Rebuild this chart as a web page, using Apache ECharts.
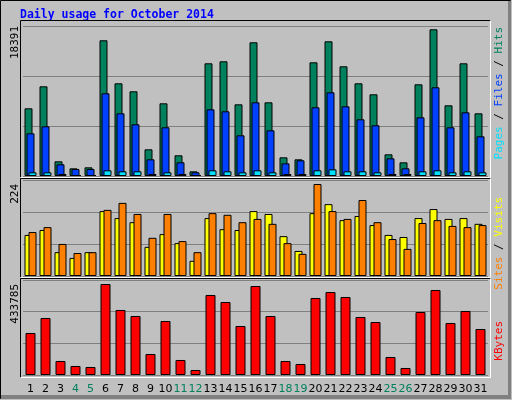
<!DOCTYPE html>
<html><head><meta charset="utf-8">
<script src="https://cdn.jsdelivr.net/npm/echarts@6/dist/echarts.min.js"></script>
<style>html,body{margin:0;padding:0;background:#c0c0c0}#c{width:512px;height:400px}</style>
</head><body><div id="c"></div>
<script>
const days = ['1','2','3','4','5','6','7','8','9','10','11','12','13','14','15','16','17','18','19','20','21','22','23','24','25','26','27','28','29','30','31'];
const weekends = ['4','5','11','12','18','19','25','26'];
const hits = [8485,11244,1839,961,1087,17013,11620,10617,3344,9112,2592,585,14128,14379,8987,16762,9238,2341,2090,14254,16887,13752,11620,10241,2717,1714,11495,18391,8862,14128,7858];
const files = [5350,6228,1463,878,878,10366,7858,6479,2090,6103,1714,460,8360,8109,5100,9238,5727,1588,1965,8611,10492,8736,7106,6354,2215,961,7357,11119,6103,7984,4974];
const pages = [460,460,250,125,125,710,585,585,250,460,250,125,710,585,460,710,460,250,250,710,836,585,585,460,250,250,585,710,460,585,460];
const visits = [100,112,58,44,58,158,141,131,71,102,80,37,141,114,112,158,151,97,61,153,175,136,146,124,100,95,141,163,139,141,127];
const sites = [107,119,78,56,58,161,178,151,93,151,85,58,153,149,131,139,127,80,54,224,158,139,185,131,90,66,129,136,122,119,124];
const kbytes = [200214,271719,66738,42903,38136,433785,309855,281253,100107,257418,71505,23835,381360,347991,233583,424263,281253,66738,52437,367059,395661,371826,276486,252651,85806,33369,300321,405195,247884,305088,219282];
const maxLabels = ['18391','224','433785'];

const ch = echarts.init(document.getElementById('c'));
const grids = [
  {left:23, width:465, top:26, height:150},
  {left:23, width:465, top:180, height:96},
  {left:23, width:465, top:280, height:95}
];
const maxes = [18391*150/146.7, 224*96/92, 433785*95/91];
const bs = {borderColor:'#000', borderWidth:1};
function xAx(i, show){
  return {type:'category', gridIndex:i, data:days, boundaryGap:true,
    axisLine:{show:false}, axisTick:{show:false},
    axisLabel:{show:show, margin:9, fontSize:11, fontFamily:'DejaVu Sans', interval:0,
      color:(v)=> weekends.includes(v)?'#00805c':'#000'}};
}
function yAx(i){
  return {type:'value', gridIndex:i, min:0, max:maxes[i], interval:maxes[i]/3,
    axisLabel:{show:false}, axisLine:{show:false}, axisTick:{show:false},
    splitLine:{show:true, lineStyle:{color:'#808080', width:1}}};
}
function frame(x,y,w,h){
  return [
    {type:'line', shape:{x1:x,y1:y,x2:x+w,y2:y}, style:{stroke:'#000'}},
    {type:'line', shape:{x1:x,y1:y,x2:x,y2:y+h}, style:{stroke:'#000'}},
    {type:'line', shape:{x1:x,y1:y+h,x2:x+w,y2:y+h}, style:{stroke:'#fff'}},
    {type:'line', shape:{x1:x+w,y1:y,x2:x+w,y2:y+h}, style:{stroke:'#fff'}}
  ];
}
function vtext(x,y,rich,text){
  return {type:'text', x:x, y:y, rotation:Math.PI/2, z:10,
    style:{text:text, rich:rich, align:'right', verticalAlign:'middle',
      font:'11px "DejaVu Sans Mono"', fill:'#000'}};
}
const st = (c)=>({fill:c, font:'11px "DejaVu Sans Mono"'});
ch.setOption({
  animation:false,
  backgroundColor:'#c0c0c0',
  grid:grids,
  xAxis:[xAx(0,false),xAx(1,false),xAx(2,true)],
  yAxis:[yAx(0),yAx(1),yAx(2)],
  graphic:[
    {type:'rect', shape:{x:0.5,y:0.5,width:510,height:398}, style:{fill:'none', stroke:'#000'}, z:-1},
    {type:'rect', shape:{x:1,y:395,width:510,height:4}, style:{fill:'#808080'}},
    {type:'rect', shape:{x:508,y:1,width:3,height:398}, style:{fill:'#808080'}},
    {type:'text', x:20, y:15, style:{text:'Daily usage for October 2014', font:'bold 11.5px "DejaVu Sans Mono"', fill:'#0000ff', verticalAlign:'middle'}},
    ...frame(20.5,20.5,470,157),
    ...frame(20.5,178.5,470,99),
    ...frame(20.5,278.5,470,99),
    vtext(15,26,{},maxLabels[0]),
    vtext(15,184,{},maxLabels[1]),
    vtext(15,284,{},maxLabels[2]),
    vtext(499,27,{p:st('#00e0ff'),f:st('#0040ff'),h:st('#00805c'),s:st('#000')},'{p|Pages}{s| / }{f|Files}{s| / }{h|Hits}'),
    vtext(499,197,{a:st('#ff8000'),b:st('#ffff00'),s:st('#000')},'{a|Sites}{s| / }{b|Visits}'),
    vtext(499,321,{k:st('#ff0000')},'{k|KBytes}')
  ],
  series:[
    {type:'bar', name:'Hits', xAxisIndex:0, yAxisIndex:0, data:hits, barWidth:8, barGap:'-75%', itemStyle:Object.assign({color:'#00805c'},bs)},
    {type:'bar', name:'Files', xAxisIndex:0, yAxisIndex:0, data:files, barWidth:8, barGap:'-75%', itemStyle:Object.assign({color:'#0040ff'},bs)},
    {type:'bar', name:'Pages', xAxisIndex:0, yAxisIndex:0, data:pages, barWidth:8, barGap:'-75%', itemStyle:Object.assign({color:'#00e0ff'},bs)},
    {type:'bar', name:'Visits', xAxisIndex:1, yAxisIndex:1, data:visits, barWidth:8, barGap:'-50%', itemStyle:Object.assign({color:'#ffff00'},bs)},
    {type:'bar', name:'Sites', xAxisIndex:1, yAxisIndex:1, data:sites, barWidth:8, barGap:'-50%', itemStyle:Object.assign({color:'#ff8000'},bs)},
    {type:'bar', name:'KBytes', xAxisIndex:2, yAxisIndex:2, data:kbytes, barWidth:10, itemStyle:Object.assign({color:'#ff0000'},bs)}
  ]
});
</script></body></html>
